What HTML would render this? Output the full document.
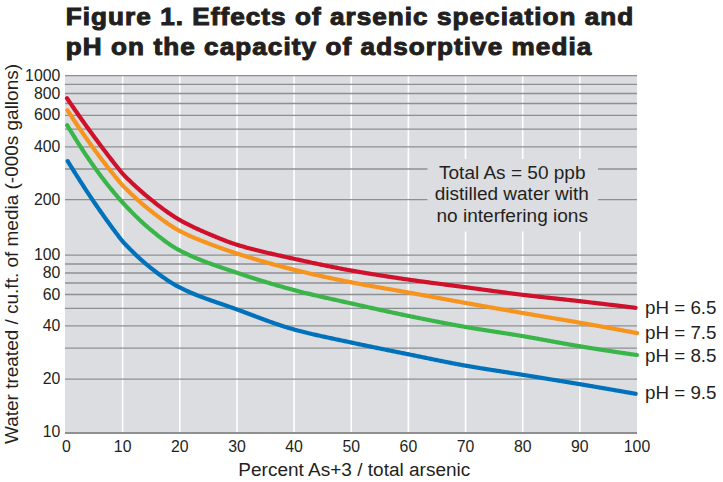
<!DOCTYPE html>
<html><head><meta charset="utf-8"><style>
html,body{margin:0;padding:0;background:#fff;}
body{width:723px;height:482px;overflow:hidden;font-family:"Liberation Sans",sans-serif;}
svg{display:block;}
</style></head><body>
<svg width="723" height="482" viewBox="0 0 723 482">
<rect x="65.0" y="75.5" width="572.0" height="357.5" fill="#dcdde0"/>
<line x1="122.65" y1="75.5" x2="122.65" y2="433.0" stroke="#ffffff" stroke-width="1.6"/>
<line x1="179.80" y1="75.5" x2="179.80" y2="433.0" stroke="#ffffff" stroke-width="1.6"/>
<line x1="236.95" y1="75.5" x2="236.95" y2="433.0" stroke="#ffffff" stroke-width="1.6"/>
<line x1="294.10" y1="75.5" x2="294.10" y2="433.0" stroke="#ffffff" stroke-width="1.6"/>
<line x1="351.25" y1="75.5" x2="351.25" y2="433.0" stroke="#ffffff" stroke-width="1.6"/>
<line x1="408.40" y1="75.5" x2="408.40" y2="433.0" stroke="#ffffff" stroke-width="1.6"/>
<line x1="465.55" y1="75.5" x2="465.55" y2="433.0" stroke="#ffffff" stroke-width="1.6"/>
<line x1="522.70" y1="75.5" x2="522.70" y2="433.0" stroke="#ffffff" stroke-width="1.6"/>
<line x1="579.85" y1="75.5" x2="579.85" y2="433.0" stroke="#ffffff" stroke-width="1.6"/>
<line x1="65.0" y1="75.6" x2="637.0" y2="75.6" stroke="#8e8f91" stroke-width="1.3"/>
<line x1="65.0" y1="84.4" x2="637.0" y2="84.4" stroke="#8e8f91" stroke-width="1.3"/>
<line x1="65.0" y1="93.5" x2="637.0" y2="93.5" stroke="#8e8f91" stroke-width="1.3"/>
<line x1="65.0" y1="103.5" x2="637.0" y2="103.5" stroke="#8e8f91" stroke-width="1.3"/>
<line x1="65.0" y1="115.4" x2="637.0" y2="115.4" stroke="#8e8f91" stroke-width="1.3"/>
<line x1="65.0" y1="129.1" x2="637.0" y2="129.1" stroke="#8e8f91" stroke-width="1.3"/>
<line x1="65.0" y1="146.8" x2="637.0" y2="146.8" stroke="#8e8f91" stroke-width="1.3"/>
<line x1="65.0" y1="169.0" x2="637.0" y2="169.0" stroke="#8e8f91" stroke-width="1.3"/>
<line x1="65.0" y1="199.6" x2="637.0" y2="199.6" stroke="#8e8f91" stroke-width="1.3"/>
<line x1="65.0" y1="255.1" x2="637.0" y2="255.1" stroke="#8e8f91" stroke-width="1.3"/>
<line x1="65.0" y1="264.0" x2="637.0" y2="264.0" stroke="#8e8f91" stroke-width="1.3"/>
<line x1="65.0" y1="273.0" x2="637.0" y2="273.0" stroke="#8e8f91" stroke-width="1.3"/>
<line x1="65.0" y1="283.0" x2="637.0" y2="283.0" stroke="#8e8f91" stroke-width="1.3"/>
<line x1="65.0" y1="294.5" x2="637.0" y2="294.5" stroke="#8e8f91" stroke-width="1.3"/>
<line x1="65.0" y1="308.4" x2="637.0" y2="308.4" stroke="#8e8f91" stroke-width="1.3"/>
<line x1="65.0" y1="325.8" x2="637.0" y2="325.8" stroke="#8e8f91" stroke-width="1.3"/>
<line x1="65.0" y1="348.2" x2="637.0" y2="348.2" stroke="#8e8f91" stroke-width="1.3"/>
<line x1="65.0" y1="379.2" x2="637.0" y2="379.2" stroke="#8e8f91" stroke-width="1.3"/>
<line x1="65.0" y1="433.0" x2="637.0" y2="433.0" stroke="#8e8f91" stroke-width="1.8"/>
<rect x="427.5" y="159" width="170.5" height="72.5" fill="#dcdde0"/>
<path d="M67.70 161.10 L68.70 162.74 L69.70 164.37 L70.70 165.99 L71.70 167.61 L72.70 169.21 L73.70 170.81 L74.70 172.41 L75.70 174.00 L76.70 175.59 L77.70 177.16 L78.70 178.74 L79.70 180.30 L80.70 181.86 L81.70 183.42 L82.70 184.96 L83.70 186.50 L84.70 188.04 L85.70 189.57 L86.70 191.09 L87.70 192.60 L88.70 194.11 L89.70 195.61 L90.70 197.11 L91.70 198.60 L92.70 200.08 L93.70 201.56 L94.70 203.03 L95.70 204.49 L96.70 205.95 L97.70 207.40 L98.70 208.85 L99.70 210.29 L100.70 211.72 L101.70 213.15 L102.70 214.56 L103.70 215.98 L104.70 217.38 L105.70 218.79 L106.70 220.18 L107.70 221.57 L108.70 222.95 L109.70 224.32 L110.70 225.69 L111.70 227.05 L112.70 228.41 L113.70 229.76 L114.70 231.10 L115.70 232.44 L116.70 233.77 L117.70 235.09 L118.70 236.41 L119.70 237.71 L120.70 239.00 L121.70 240.25 L122.70 241.45 L123.70 242.59 L124.70 243.69 L125.70 244.75 L126.70 245.79 L127.70 246.82 L128.70 247.84 L129.70 248.85 L130.70 249.86 L131.70 250.85 L132.70 251.84 L133.70 252.81 L134.70 253.78 L135.70 254.74 L136.70 255.69 L137.70 256.62 L138.70 257.55 L139.70 258.47 L140.70 259.38 L141.70 260.27 L142.70 261.16 L143.70 262.03 L144.70 262.90 L145.70 263.75 L146.70 264.59 L147.70 265.42 L148.70 266.24 L149.70 267.05 L150.70 267.85 L151.70 268.64 L152.70 269.42 L153.70 270.20 L154.70 270.97 L155.70 271.74 L156.70 272.50 L157.70 273.26 L158.70 274.00 L159.70 274.75 L160.70 275.48 L161.70 276.21 L162.70 276.93 L163.70 277.64 L164.70 278.34 L165.70 279.03 L166.70 279.71 L167.70 280.39 L168.70 281.05 L169.70 281.70 L170.70 282.34 L171.70 282.96 L172.70 283.57 L173.70 284.17 L174.70 284.76 L175.70 285.33 L176.70 285.89 L177.70 286.43 L178.70 286.96 L179.70 287.48 L180.70 287.99 L181.70 288.48 L182.70 288.97 L183.70 289.45 L184.70 289.92 L185.70 290.38 L186.70 290.84 L187.70 291.29 L188.70 291.74 L189.70 292.18 L190.70 292.61 L191.70 293.04 L192.70 293.46 L193.70 293.87 L194.70 294.28 L195.70 294.69 L196.70 295.09 L197.70 295.49 L198.70 295.88 L199.70 296.27 L200.70 296.65 L201.70 297.03 L202.70 297.41 L203.70 297.78 L204.70 298.15 L205.70 298.51 L206.70 298.88 L207.70 299.24 L208.70 299.60 L209.70 299.95 L210.70 300.30 L211.70 300.66 L212.70 301.01 L213.70 301.35 L214.70 301.70 L215.70 302.05 L216.70 302.39 L217.70 302.73 L218.70 303.08 L219.70 303.42 L220.70 303.76 L221.70 304.10 L222.70 304.45 L223.70 304.79 L224.70 305.13 L225.70 305.48 L226.70 305.82 L227.70 306.17 L228.70 306.51 L229.70 306.86 L230.70 307.21 L231.70 307.56 L232.70 307.92 L233.70 308.27 L234.70 308.63 L235.70 308.99 L236.70 309.36 L237.70 309.72 L238.70 310.09 L239.70 310.46 L240.70 310.83 L241.70 311.20 L242.70 311.57 L243.70 311.95 L244.70 312.32 L245.70 312.70 L246.70 313.07 L247.70 313.45 L248.70 313.82 L249.70 314.20 L250.70 314.58 L251.70 314.95 L252.70 315.33 L253.70 315.71 L254.70 316.08 L255.70 316.46 L256.70 316.84 L257.70 317.21 L258.70 317.58 L259.70 317.96 L260.70 318.33 L261.70 318.70 L262.70 319.07 L263.70 319.44 L264.70 319.81 L265.70 320.17 L266.70 320.54 L267.70 320.90 L268.70 321.26 L269.70 321.62 L270.70 321.98 L271.70 322.33 L272.70 322.69 L273.70 323.04 L274.70 323.38 L275.70 323.73 L276.70 324.07 L277.70 324.41 L278.70 324.75 L279.70 325.08 L280.70 325.41 L281.70 325.74 L282.70 326.07 L283.70 326.39 L284.70 326.70 L285.70 327.02 L286.70 327.33 L287.70 327.63 L288.70 327.94 L289.70 328.23 L290.70 328.53 L291.70 328.82 L292.70 329.10 L293.70 329.38 L294.70 329.66 L295.70 329.93 L296.70 330.20 L297.70 330.47 L298.70 330.74 L299.70 331.00 L300.70 331.26 L301.70 331.52 L302.70 331.77 L303.70 332.02 L304.70 332.27 L305.70 332.52 L306.70 332.77 L307.70 333.01 L308.70 333.25 L309.70 333.49 L310.70 333.73 L311.70 333.96 L312.70 334.20 L313.70 334.43 L314.70 334.66 L315.70 334.89 L316.70 335.11 L317.70 335.34 L318.70 335.56 L319.70 335.79 L320.70 336.01 L321.70 336.23 L322.70 336.45 L323.70 336.67 L324.70 336.88 L325.70 337.10 L326.70 337.32 L327.70 337.53 L328.70 337.74 L329.70 337.96 L330.70 338.17 L331.70 338.38 L332.70 338.60 L333.70 338.81 L334.70 339.02 L335.70 339.23 L336.70 339.44 L337.70 339.65 L338.70 339.86 L339.70 340.07 L340.70 340.28 L341.70 340.50 L342.70 340.71 L343.70 340.92 L344.70 341.13 L345.70 341.34 L346.70 341.56 L347.70 341.77 L348.70 341.98 L349.70 342.20 L350.70 342.41 L351.70 342.63 L352.70 342.84 L353.70 343.06 L354.70 343.27 L355.70 343.49 L356.70 343.70 L357.70 343.92 L358.70 344.13 L359.70 344.34 L360.70 344.55 L361.70 344.76 L362.70 344.97 L363.70 345.18 L364.70 345.39 L365.70 345.60 L366.70 345.81 L367.70 346.02 L368.70 346.23 L369.70 346.43 L370.70 346.64 L371.70 346.85 L372.70 347.05 L373.70 347.26 L374.70 347.47 L375.70 347.67 L376.70 347.88 L377.70 348.08 L378.70 348.29 L379.70 348.49 L380.70 348.70 L381.70 348.90 L382.70 349.10 L383.70 349.31 L384.70 349.51 L385.70 349.71 L386.70 349.92 L387.70 350.12 L388.70 350.32 L389.70 350.52 L390.70 350.73 L391.70 350.93 L392.70 351.13 L393.70 351.33 L394.70 351.53 L395.70 351.74 L396.70 351.94 L397.70 352.14 L398.70 352.34 L399.70 352.54 L400.70 352.75 L401.70 352.95 L402.70 353.15 L403.70 353.35 L404.70 353.55 L405.70 353.75 L406.70 353.96 L407.70 354.16 L408.70 354.36 L409.70 354.56 L410.70 354.77 L411.70 354.97 L412.70 355.17 L413.70 355.38 L414.70 355.58 L415.70 355.79 L416.70 355.99 L417.70 356.20 L418.70 356.40 L419.70 356.61 L420.70 356.81 L421.70 357.02 L422.70 357.23 L423.70 357.43 L424.70 357.64 L425.70 357.84 L426.70 358.05 L427.70 358.25 L428.70 358.46 L429.70 358.66 L430.70 358.87 L431.70 359.07 L432.70 359.28 L433.70 359.48 L434.70 359.69 L435.70 359.89 L436.70 360.09 L437.70 360.30 L438.70 360.50 L439.70 360.70 L440.70 360.90 L441.70 361.10 L442.70 361.30 L443.70 361.50 L444.70 361.70 L445.70 361.90 L446.70 362.10 L447.70 362.29 L448.70 362.49 L449.70 362.68 L450.70 362.88 L451.70 363.07 L452.70 363.26 L453.70 363.46 L454.70 363.65 L455.70 363.84 L456.70 364.02 L457.70 364.21 L458.70 364.40 L459.70 364.58 L460.70 364.77 L461.70 364.95 L462.70 365.13 L463.70 365.31 L464.70 365.49 L465.70 365.67 L466.70 365.85 L467.70 366.02 L468.70 366.19 L469.70 366.37 L470.70 366.54 L471.70 366.71 L472.70 366.88 L473.70 367.05 L474.70 367.22 L475.70 367.38 L476.70 367.55 L477.70 367.72 L478.70 367.88 L479.70 368.04 L480.70 368.21 L481.70 368.37 L482.70 368.53 L483.70 368.69 L484.70 368.85 L485.70 369.01 L486.70 369.17 L487.70 369.33 L488.70 369.49 L489.70 369.64 L490.70 369.80 L491.70 369.96 L492.70 370.11 L493.70 370.27 L494.70 370.43 L495.70 370.58 L496.70 370.74 L497.70 370.89 L498.70 371.05 L499.70 371.20 L500.70 371.36 L501.70 371.51 L502.70 371.67 L503.70 371.82 L504.70 371.98 L505.70 372.13 L506.70 372.29 L507.70 372.44 L508.70 372.60 L509.70 372.75 L510.70 372.91 L511.70 373.07 L512.70 373.22 L513.70 373.38 L514.70 373.54 L515.70 373.70 L516.70 373.85 L517.70 374.01 L518.70 374.17 L519.70 374.33 L520.70 374.49 L521.70 374.66 L522.70 374.82 L523.70 374.98 L524.70 375.14 L525.70 375.30 L526.70 375.47 L527.70 375.63 L528.70 375.79 L529.70 375.95 L530.70 376.11 L531.70 376.28 L532.70 376.44 L533.70 376.60 L534.70 376.76 L535.70 376.93 L536.70 377.09 L537.70 377.25 L538.70 377.41 L539.70 377.58 L540.70 377.74 L541.70 377.90 L542.70 378.06 L543.70 378.23 L544.70 378.39 L545.70 378.55 L546.70 378.72 L547.70 378.88 L548.70 379.04 L549.70 379.21 L550.70 379.37 L551.70 379.53 L552.70 379.70 L553.70 379.86 L554.70 380.02 L555.70 380.19 L556.70 380.35 L557.70 380.52 L558.70 380.68 L559.70 380.84 L560.70 381.01 L561.70 381.17 L562.70 381.34 L563.70 381.50 L564.70 381.67 L565.70 381.83 L566.70 382.00 L567.70 382.16 L568.70 382.33 L569.70 382.50 L570.70 382.66 L571.70 382.83 L572.70 383.00 L573.70 383.16 L574.70 383.33 L575.70 383.50 L576.70 383.66 L577.70 383.83 L578.70 384.00 L579.70 384.17 L580.70 384.33 L581.70 384.50 L582.70 384.67 L583.70 384.84 L584.70 385.01 L585.70 385.18 L586.70 385.35 L587.70 385.52 L588.70 385.69 L589.70 385.86 L590.70 386.03 L591.70 386.19 L592.70 386.36 L593.70 386.54 L594.70 386.71 L595.70 386.88 L596.70 387.05 L597.70 387.22 L598.70 387.39 L599.70 387.56 L600.70 387.73 L601.70 387.90 L602.70 388.07 L603.70 388.25 L604.70 388.42 L605.70 388.59 L606.70 388.76 L607.70 388.93 L608.70 389.11 L609.70 389.28 L610.70 389.45 L611.70 389.62 L612.70 389.80 L613.70 389.97 L614.70 390.14 L615.70 390.32 L616.70 390.49 L617.70 390.66 L618.70 390.84 L619.70 391.01 L620.70 391.19 L621.70 391.36 L622.70 391.54 L623.70 391.71 L624.70 391.89 L625.70 392.06 L626.70 392.24 L627.70 392.41 L628.70 392.59 L629.70 392.76 L630.70 392.94 L631.70 393.11 L632.70 393.29 L633.70 393.47 L634.70 393.64 L635.60 393.80" fill="none" stroke="#0072bc" stroke-width="4.2" stroke-linecap="round" stroke-linejoin="round"/>
<path d="M67.20 125.20 L68.20 126.88 L69.20 128.55 L70.20 130.21 L71.20 131.85 L72.20 133.48 L73.20 135.10 L74.20 136.72 L75.20 138.32 L76.20 139.92 L77.20 141.50 L78.20 143.08 L79.20 144.64 L80.20 146.20 L81.20 147.74 L82.20 149.27 L83.20 150.79 L84.20 152.31 L85.20 153.81 L86.20 155.30 L87.20 156.78 L88.20 158.25 L89.20 159.71 L90.20 161.16 L91.20 162.60 L92.20 164.03 L93.20 165.45 L94.20 166.85 L95.20 168.25 L96.20 169.64 L97.20 171.01 L98.20 172.38 L99.20 173.74 L100.20 175.08 L101.20 176.42 L102.20 177.74 L103.20 179.06 L104.20 180.36 L105.20 181.65 L106.20 182.93 L107.20 184.21 L108.20 185.47 L109.20 186.72 L110.20 187.96 L111.20 189.19 L112.20 190.41 L113.20 191.62 L114.20 192.82 L115.20 194.01 L116.20 195.19 L117.20 196.36 L118.20 197.51 L119.20 198.66 L120.20 199.80 L121.20 200.92 L122.20 202.03 L123.20 203.14 L124.20 204.23 L125.20 205.31 L126.20 206.38 L127.20 207.44 L128.20 208.49 L129.20 209.54 L130.20 210.58 L131.20 211.61 L132.20 212.63 L133.20 213.64 L134.20 214.64 L135.20 215.63 L136.20 216.62 L137.20 217.59 L138.20 218.55 L139.20 219.51 L140.20 220.45 L141.20 221.39 L142.20 222.31 L143.20 223.23 L144.20 224.13 L145.20 225.02 L146.20 225.90 L147.20 226.77 L148.20 227.63 L149.20 228.48 L150.20 229.32 L151.20 230.15 L152.20 230.98 L153.20 231.80 L154.20 232.61 L155.20 233.43 L156.20 234.23 L157.20 235.04 L158.20 235.83 L159.20 236.62 L160.20 237.41 L161.20 238.18 L162.20 238.95 L163.20 239.71 L164.20 240.46 L165.20 241.21 L166.20 241.94 L167.20 242.66 L168.20 243.37 L169.20 244.06 L170.20 244.74 L171.20 245.41 L172.20 246.07 L173.20 246.71 L174.20 247.33 L175.20 247.94 L176.20 248.54 L177.20 249.11 L178.20 249.67 L179.20 250.21 L180.20 250.74 L181.20 251.26 L182.20 251.77 L183.20 252.26 L184.20 252.76 L185.20 253.24 L186.20 253.72 L187.20 254.19 L188.20 254.66 L189.20 255.12 L190.20 255.57 L191.20 256.02 L192.20 256.46 L193.20 256.89 L194.20 257.32 L195.20 257.75 L196.20 258.17 L197.20 258.58 L198.20 258.99 L199.20 259.40 L200.20 259.80 L201.20 260.20 L202.20 260.59 L203.20 260.98 L204.20 261.36 L205.20 261.74 L206.20 262.12 L207.20 262.49 L208.20 262.86 L209.20 263.23 L210.20 263.59 L211.20 263.95 L212.20 264.31 L213.20 264.67 L214.20 265.02 L215.20 265.37 L216.20 265.72 L217.20 266.07 L218.20 266.41 L219.20 266.75 L220.20 267.10 L221.20 267.44 L222.20 267.78 L223.20 268.12 L224.20 268.45 L225.20 268.79 L226.20 269.13 L227.20 269.46 L228.20 269.80 L229.20 270.14 L230.20 270.47 L231.20 270.81 L232.20 271.14 L233.20 271.48 L234.20 271.82 L235.20 272.16 L236.20 272.49 L237.20 272.83 L238.20 273.17 L239.20 273.51 L240.20 273.85 L241.20 274.18 L242.20 274.52 L243.20 274.85 L244.20 275.19 L245.20 275.52 L246.20 275.85 L247.20 276.18 L248.20 276.50 L249.20 276.83 L250.20 277.16 L251.20 277.48 L252.20 277.80 L253.20 278.12 L254.20 278.44 L255.20 278.76 L256.20 279.08 L257.20 279.39 L258.20 279.71 L259.20 280.02 L260.20 280.33 L261.20 280.64 L262.20 280.95 L263.20 281.26 L264.20 281.57 L265.20 281.87 L266.20 282.18 L267.20 282.48 L268.20 282.78 L269.20 283.08 L270.20 283.38 L271.20 283.68 L272.20 283.97 L273.20 284.27 L274.20 284.56 L275.20 284.85 L276.20 285.14 L277.20 285.43 L278.20 285.72 L279.20 286.01 L280.20 286.29 L281.20 286.57 L282.20 286.85 L283.20 287.14 L284.20 287.41 L285.20 287.69 L286.20 287.97 L287.20 288.24 L288.20 288.52 L289.20 288.79 L290.20 289.06 L291.20 289.33 L292.20 289.59 L293.20 289.86 L294.20 290.12 L295.20 290.39 L296.20 290.65 L297.20 290.91 L298.20 291.16 L299.20 291.42 L300.20 291.67 L301.20 291.93 L302.20 292.18 L303.20 292.43 L304.20 292.67 L305.20 292.92 L306.20 293.17 L307.20 293.41 L308.20 293.65 L309.20 293.89 L310.20 294.13 L311.20 294.37 L312.20 294.61 L313.20 294.85 L314.20 295.08 L315.20 295.32 L316.20 295.55 L317.20 295.78 L318.20 296.01 L319.20 296.24 L320.20 296.47 L321.20 296.70 L322.20 296.93 L323.20 297.16 L324.20 297.39 L325.20 297.61 L326.20 297.84 L327.20 298.06 L328.20 298.29 L329.20 298.51 L330.20 298.74 L331.20 298.96 L332.20 299.18 L333.20 299.41 L334.20 299.63 L335.20 299.85 L336.20 300.07 L337.20 300.30 L338.20 300.52 L339.20 300.74 L340.20 300.96 L341.20 301.19 L342.20 301.41 L343.20 301.63 L344.20 301.85 L345.20 302.08 L346.20 302.30 L347.20 302.52 L348.20 302.75 L349.20 302.97 L350.20 303.20 L351.20 303.42 L352.20 303.65 L353.20 303.87 L354.20 304.10 L355.20 304.32 L356.20 304.55 L357.20 304.77 L358.20 305.00 L359.20 305.22 L360.20 305.45 L361.20 305.67 L362.20 305.90 L363.20 306.12 L364.20 306.35 L365.20 306.57 L366.20 306.79 L367.20 307.02 L368.20 307.24 L369.20 307.46 L370.20 307.68 L371.20 307.91 L372.20 308.13 L373.20 308.35 L374.20 308.57 L375.20 308.79 L376.20 309.01 L377.20 309.24 L378.20 309.46 L379.20 309.68 L380.20 309.90 L381.20 310.11 L382.20 310.33 L383.20 310.55 L384.20 310.77 L385.20 310.99 L386.20 311.20 L387.20 311.42 L388.20 311.64 L389.20 311.85 L390.20 312.07 L391.20 312.28 L392.20 312.50 L393.20 312.71 L394.20 312.93 L395.20 313.14 L396.20 313.35 L397.20 313.56 L398.20 313.78 L399.20 313.99 L400.20 314.20 L401.20 314.41 L402.20 314.62 L403.20 314.82 L404.20 315.03 L405.20 315.24 L406.20 315.45 L407.20 315.65 L408.20 315.86 L409.20 316.06 L410.20 316.27 L411.20 316.47 L412.20 316.68 L413.20 316.88 L414.20 317.08 L415.20 317.29 L416.20 317.49 L417.20 317.69 L418.20 317.90 L419.20 318.10 L420.20 318.30 L421.20 318.50 L422.20 318.70 L423.20 318.91 L424.20 319.11 L425.20 319.31 L426.20 319.51 L427.20 319.71 L428.20 319.91 L429.20 320.10 L430.20 320.30 L431.20 320.50 L432.20 320.70 L433.20 320.89 L434.20 321.09 L435.20 321.29 L436.20 321.48 L437.20 321.68 L438.20 321.87 L439.20 322.07 L440.20 322.26 L441.20 322.45 L442.20 322.64 L443.20 322.84 L444.20 323.03 L445.20 323.22 L446.20 323.41 L447.20 323.60 L448.20 323.78 L449.20 323.97 L450.20 324.16 L451.20 324.35 L452.20 324.53 L453.20 324.72 L454.20 324.90 L455.20 325.09 L456.20 325.27 L457.20 325.45 L458.20 325.63 L459.20 325.81 L460.20 325.99 L461.20 326.17 L462.20 326.35 L463.20 326.53 L464.20 326.71 L465.20 326.88 L466.20 327.06 L467.20 327.23 L468.20 327.40 L469.20 327.57 L470.20 327.74 L471.20 327.91 L472.20 328.08 L473.20 328.25 L474.20 328.41 L475.20 328.58 L476.20 328.74 L477.20 328.90 L478.20 329.07 L479.20 329.23 L480.20 329.39 L481.20 329.55 L482.20 329.71 L483.20 329.87 L484.20 330.03 L485.20 330.18 L486.20 330.34 L487.20 330.50 L488.20 330.65 L489.20 330.81 L490.20 330.97 L491.20 331.12 L492.20 331.28 L493.20 331.43 L494.20 331.59 L495.20 331.74 L496.20 331.90 L497.20 332.05 L498.20 332.20 L499.20 332.36 L500.20 332.51 L501.20 332.67 L502.20 332.82 L503.20 332.98 L504.20 333.14 L505.20 333.29 L506.20 333.45 L507.20 333.61 L508.20 333.76 L509.20 333.92 L510.20 334.08 L511.20 334.24 L512.20 334.40 L513.20 334.56 L514.20 334.72 L515.20 334.88 L516.20 335.04 L517.20 335.20 L518.20 335.37 L519.20 335.53 L520.20 335.70 L521.20 335.87 L522.20 336.03 L523.20 336.20 L524.20 336.37 L525.20 336.54 L526.20 336.72 L527.20 336.89 L528.20 337.06 L529.20 337.24 L530.20 337.41 L531.20 337.59 L532.20 337.77 L533.20 337.95 L534.20 338.12 L535.20 338.30 L536.20 338.48 L537.20 338.66 L538.20 338.84 L539.20 339.03 L540.20 339.21 L541.20 339.39 L542.20 339.57 L543.20 339.75 L544.20 339.94 L545.20 340.12 L546.20 340.30 L547.20 340.49 L548.20 340.67 L549.20 340.85 L550.20 341.04 L551.20 341.22 L552.20 341.41 L553.20 341.59 L554.20 341.77 L555.20 341.96 L556.20 342.14 L557.20 342.32 L558.20 342.50 L559.20 342.68 L560.20 342.87 L561.20 343.05 L562.20 343.23 L563.20 343.41 L564.20 343.59 L565.20 343.77 L566.20 343.94 L567.20 344.12 L568.20 344.30 L569.20 344.47 L570.20 344.65 L571.20 344.82 L572.20 345.00 L573.20 345.17 L574.20 345.34 L575.20 345.51 L576.20 345.68 L577.20 345.85 L578.20 346.02 L579.20 346.18 L580.20 346.35 L581.20 346.51 L582.20 346.68 L583.20 346.84 L584.20 347.00 L585.20 347.17 L586.20 347.33 L587.20 347.49 L588.20 347.65 L589.20 347.81 L590.20 347.97 L591.20 348.13 L592.20 348.29 L593.20 348.45 L594.20 348.61 L595.20 348.77 L596.20 348.93 L597.20 349.09 L598.20 349.24 L599.20 349.40 L600.20 349.56 L601.20 349.72 L602.20 349.87 L603.20 350.03 L604.20 350.18 L605.20 350.34 L606.20 350.49 L607.20 350.64 L608.20 350.80 L609.20 350.95 L610.20 351.10 L611.20 351.26 L612.20 351.41 L613.20 351.56 L614.20 351.71 L615.20 351.86 L616.20 352.01 L617.20 352.16 L618.20 352.31 L619.20 352.46 L620.20 352.61 L621.20 352.75 L622.20 352.90 L623.20 353.05 L624.20 353.19 L625.20 353.34 L626.20 353.48 L627.20 353.63 L628.20 353.77 L629.20 353.92 L630.20 354.06 L631.20 354.21 L632.20 354.35 L633.20 354.49 L634.20 354.63 L635.20 354.77 L636.20 354.92 L636.80 355.00" fill="none" stroke="#39b54a" stroke-width="4.2" stroke-linecap="round" stroke-linejoin="round"/>
<path d="M67.50 110.30 L68.50 111.85 L69.50 113.39 L70.50 114.93 L71.50 116.46 L72.50 117.97 L73.50 119.49 L74.50 121.00 L75.50 122.50 L76.50 123.99 L77.50 125.48 L78.50 126.96 L79.50 128.44 L80.50 129.91 L81.50 131.37 L82.50 132.82 L83.50 134.27 L84.50 135.71 L85.50 137.14 L86.50 138.57 L87.50 139.99 L88.50 141.40 L89.50 142.81 L90.50 144.21 L91.50 145.60 L92.50 146.99 L93.50 148.37 L94.50 149.74 L95.50 151.10 L96.50 152.46 L97.50 153.81 L98.50 155.16 L99.50 156.49 L100.50 157.83 L101.50 159.15 L102.50 160.47 L103.50 161.78 L104.50 163.08 L105.50 164.38 L106.50 165.67 L107.50 166.95 L108.50 168.23 L109.50 169.49 L110.50 170.76 L111.50 172.01 L112.50 173.26 L113.50 174.50 L114.50 175.74 L115.50 176.97 L116.50 178.19 L117.50 179.40 L118.50 180.61 L119.50 181.81 L120.50 182.99 L121.50 184.14 L122.50 185.26 L123.50 186.33 L124.50 187.36 L125.50 188.37 L126.50 189.36 L127.50 190.33 L128.50 191.30 L129.50 192.27 L130.50 193.22 L131.50 194.17 L132.50 195.11 L133.50 196.04 L134.50 196.97 L135.50 197.89 L136.50 198.80 L137.50 199.70 L138.50 200.60 L139.50 201.49 L140.50 202.36 L141.50 203.24 L142.50 204.10 L143.50 204.95 L144.50 205.80 L145.50 206.64 L146.50 207.47 L147.50 208.29 L148.50 209.10 L149.50 209.90 L150.50 210.70 L151.50 211.48 L152.50 212.27 L153.50 213.05 L154.50 213.83 L155.50 214.60 L156.50 215.37 L157.50 216.13 L158.50 216.89 L159.50 217.65 L160.50 218.40 L161.50 219.14 L162.50 219.88 L163.50 220.61 L164.50 221.33 L165.50 222.04 L166.50 222.74 L167.50 223.44 L168.50 224.12 L169.50 224.80 L170.50 225.46 L171.50 226.11 L172.50 226.75 L173.50 227.38 L174.50 228.00 L175.50 228.60 L176.50 229.19 L177.50 229.76 L178.50 230.32 L179.50 230.87 L180.50 231.41 L181.50 231.93 L182.50 232.44 L183.50 232.94 L184.50 233.43 L185.50 233.91 L186.50 234.39 L187.50 234.85 L188.50 235.31 L189.50 235.76 L190.50 236.21 L191.50 236.64 L192.50 237.08 L193.50 237.50 L194.50 237.92 L195.50 238.34 L196.50 238.75 L197.50 239.16 L198.50 239.56 L199.50 239.96 L200.50 240.36 L201.50 240.76 L202.50 241.15 L203.50 241.54 L204.50 241.93 L205.50 242.32 L206.50 242.71 L207.50 243.10 L208.50 243.49 L209.50 243.88 L210.50 244.26 L211.50 244.65 L212.50 245.03 L213.50 245.40 L214.50 245.78 L215.50 246.15 L216.50 246.52 L217.50 246.89 L218.50 247.25 L219.50 247.62 L220.50 247.98 L221.50 248.33 L222.50 248.69 L223.50 249.04 L224.50 249.39 L225.50 249.74 L226.50 250.08 L227.50 250.43 L228.50 250.77 L229.50 251.10 L230.50 251.44 L231.50 251.77 L232.50 252.10 L233.50 252.43 L234.50 252.76 L235.50 253.08 L236.50 253.40 L237.50 253.72 L238.50 254.04 L239.50 254.36 L240.50 254.68 L241.50 254.99 L242.50 255.30 L243.50 255.62 L244.50 255.93 L245.50 256.24 L246.50 256.55 L247.50 256.85 L248.50 257.16 L249.50 257.46 L250.50 257.77 L251.50 258.07 L252.50 258.37 L253.50 258.67 L254.50 258.97 L255.50 259.27 L256.50 259.57 L257.50 259.86 L258.50 260.15 L259.50 260.45 L260.50 260.74 L261.50 261.03 L262.50 261.32 L263.50 261.61 L264.50 261.89 L265.50 262.18 L266.50 262.46 L267.50 262.75 L268.50 263.03 L269.50 263.31 L270.50 263.59 L271.50 263.86 L272.50 264.14 L273.50 264.42 L274.50 264.69 L275.50 264.96 L276.50 265.23 L277.50 265.50 L278.50 265.77 L279.50 266.04 L280.50 266.31 L281.50 266.57 L282.50 266.84 L283.50 267.10 L284.50 267.36 L285.50 267.62 L286.50 267.88 L287.50 268.13 L288.50 268.39 L289.50 268.64 L290.50 268.90 L291.50 269.15 L292.50 269.40 L293.50 269.65 L294.50 269.90 L295.50 270.14 L296.50 270.39 L297.50 270.63 L298.50 270.88 L299.50 271.12 L300.50 271.36 L301.50 271.60 L302.50 271.84 L303.50 272.07 L304.50 272.31 L305.50 272.55 L306.50 272.78 L307.50 273.01 L308.50 273.25 L309.50 273.48 L310.50 273.71 L311.50 273.94 L312.50 274.16 L313.50 274.39 L314.50 274.62 L315.50 274.84 L316.50 275.07 L317.50 275.29 L318.50 275.51 L319.50 275.73 L320.50 275.95 L321.50 276.17 L322.50 276.39 L323.50 276.61 L324.50 276.82 L325.50 277.04 L326.50 277.26 L327.50 277.47 L328.50 277.68 L329.50 277.90 L330.50 278.11 L331.50 278.32 L332.50 278.53 L333.50 278.74 L334.50 278.95 L335.50 279.15 L336.50 279.36 L337.50 279.57 L338.50 279.77 L339.50 279.98 L340.50 280.18 L341.50 280.38 L342.50 280.59 L343.50 280.79 L344.50 280.99 L345.50 281.19 L346.50 281.39 L347.50 281.59 L348.50 281.79 L349.50 281.98 L350.50 282.18 L351.50 282.38 L352.50 282.57 L353.50 282.77 L354.50 282.96 L355.50 283.15 L356.50 283.34 L357.50 283.53 L358.50 283.72 L359.50 283.90 L360.50 284.09 L361.50 284.28 L362.50 284.46 L363.50 284.64 L364.50 284.82 L365.50 285.01 L366.50 285.19 L367.50 285.36 L368.50 285.54 L369.50 285.72 L370.50 285.90 L371.50 286.08 L372.50 286.25 L373.50 286.43 L374.50 286.60 L375.50 286.78 L376.50 286.95 L377.50 287.13 L378.50 287.30 L379.50 287.47 L380.50 287.64 L381.50 287.82 L382.50 287.99 L383.50 288.16 L384.50 288.33 L385.50 288.51 L386.50 288.68 L387.50 288.85 L388.50 289.02 L389.50 289.19 L390.50 289.37 L391.50 289.54 L392.50 289.71 L393.50 289.88 L394.50 290.05 L395.50 290.23 L396.50 290.40 L397.50 290.57 L398.50 290.75 L399.50 290.92 L400.50 291.10 L401.50 291.27 L402.50 291.45 L403.50 291.63 L404.50 291.80 L405.50 291.98 L406.50 292.16 L407.50 292.34 L408.50 292.52 L409.50 292.70 L410.50 292.88 L411.50 293.06 L412.50 293.24 L413.50 293.42 L414.50 293.61 L415.50 293.79 L416.50 293.97 L417.50 294.15 L418.50 294.33 L419.50 294.52 L420.50 294.70 L421.50 294.88 L422.50 295.07 L423.50 295.25 L424.50 295.43 L425.50 295.62 L426.50 295.80 L427.50 295.98 L428.50 296.17 L429.50 296.35 L430.50 296.54 L431.50 296.72 L432.50 296.91 L433.50 297.09 L434.50 297.27 L435.50 297.46 L436.50 297.64 L437.50 297.83 L438.50 298.01 L439.50 298.19 L440.50 298.38 L441.50 298.56 L442.50 298.75 L443.50 298.93 L444.50 299.11 L445.50 299.30 L446.50 299.48 L447.50 299.66 L448.50 299.85 L449.50 300.03 L450.50 300.21 L451.50 300.40 L452.50 300.58 L453.50 300.76 L454.50 300.95 L455.50 301.13 L456.50 301.31 L457.50 301.49 L458.50 301.67 L459.50 301.85 L460.50 302.03 L461.50 302.22 L462.50 302.40 L463.50 302.58 L464.50 302.76 L465.50 302.94 L466.50 303.12 L467.50 303.29 L468.50 303.47 L469.50 303.65 L470.50 303.83 L471.50 304.01 L472.50 304.19 L473.50 304.37 L474.50 304.55 L475.50 304.73 L476.50 304.90 L477.50 305.08 L478.50 305.26 L479.50 305.44 L480.50 305.62 L481.50 305.79 L482.50 305.97 L483.50 306.15 L484.50 306.33 L485.50 306.50 L486.50 306.68 L487.50 306.86 L488.50 307.04 L489.50 307.21 L490.50 307.39 L491.50 307.57 L492.50 307.74 L493.50 307.92 L494.50 308.10 L495.50 308.27 L496.50 308.45 L497.50 308.62 L498.50 308.80 L499.50 308.98 L500.50 309.15 L501.50 309.33 L502.50 309.50 L503.50 309.68 L504.50 309.85 L505.50 310.03 L506.50 310.20 L507.50 310.38 L508.50 310.55 L509.50 310.73 L510.50 310.90 L511.50 311.07 L512.50 311.25 L513.50 311.42 L514.50 311.60 L515.50 311.77 L516.50 311.94 L517.50 312.12 L518.50 312.29 L519.50 312.46 L520.50 312.64 L521.50 312.81 L522.50 312.98 L523.50 313.15 L524.50 313.33 L525.50 313.50 L526.50 313.67 L527.50 313.84 L528.50 314.01 L529.50 314.18 L530.50 314.35 L531.50 314.52 L532.50 314.69 L533.50 314.86 L534.50 315.03 L535.50 315.20 L536.50 315.36 L537.50 315.53 L538.50 315.70 L539.50 315.87 L540.50 316.04 L541.50 316.20 L542.50 316.37 L543.50 316.54 L544.50 316.70 L545.50 316.87 L546.50 317.04 L547.50 317.20 L548.50 317.37 L549.50 317.54 L550.50 317.71 L551.50 317.87 L552.50 318.04 L553.50 318.21 L554.50 318.37 L555.50 318.54 L556.50 318.71 L557.50 318.88 L558.50 319.04 L559.50 319.21 L560.50 319.38 L561.50 319.55 L562.50 319.72 L563.50 319.88 L564.50 320.05 L565.50 320.22 L566.50 320.39 L567.50 320.56 L568.50 320.73 L569.50 320.90 L570.50 321.07 L571.50 321.24 L572.50 321.42 L573.50 321.59 L574.50 321.76 L575.50 321.93 L576.50 322.11 L577.50 322.28 L578.50 322.46 L579.50 322.63 L580.50 322.81 L581.50 322.98 L582.50 323.16 L583.50 323.33 L584.50 323.51 L585.50 323.69 L586.50 323.86 L587.50 324.04 L588.50 324.22 L589.50 324.40 L590.50 324.57 L591.50 324.75 L592.50 324.93 L593.50 325.11 L594.50 325.29 L595.50 325.47 L596.50 325.65 L597.50 325.83 L598.50 326.01 L599.50 326.19 L600.50 326.37 L601.50 326.55 L602.50 326.73 L603.50 326.91 L604.50 327.09 L605.50 327.27 L606.50 327.45 L607.50 327.63 L608.50 327.82 L609.50 328.00 L610.50 328.18 L611.50 328.36 L612.50 328.55 L613.50 328.73 L614.50 328.91 L615.50 329.10 L616.50 329.28 L617.50 329.47 L618.50 329.65 L619.50 329.83 L620.50 330.02 L621.50 330.20 L622.50 330.39 L623.50 330.57 L624.50 330.76 L625.50 330.95 L626.50 331.13 L627.50 331.32 L628.50 331.51 L629.50 331.69 L630.50 331.88 L631.50 332.07 L632.50 332.25 L633.50 332.44 L634.50 332.63 L635.50 332.82 L636.50 333.01 L637.00 333.10" fill="none" stroke="#f7941d" stroke-width="4.2" stroke-linecap="round" stroke-linejoin="round"/>
<path d="M67.00 98.30 L68.00 99.77 L69.00 101.24 L70.00 102.70 L71.00 104.16 L72.00 105.61 L73.00 107.06 L74.00 108.50 L75.00 109.94 L76.00 111.38 L77.00 112.82 L78.00 114.25 L79.00 115.67 L80.00 117.09 L81.00 118.51 L82.00 119.92 L83.00 121.33 L84.00 122.74 L85.00 124.14 L86.00 125.53 L87.00 126.93 L88.00 128.31 L89.00 129.70 L90.00 131.08 L91.00 132.45 L92.00 133.82 L93.00 135.19 L94.00 136.56 L95.00 137.91 L96.00 139.27 L97.00 140.62 L98.00 141.97 L99.00 143.31 L100.00 144.65 L101.00 145.98 L102.00 147.31 L103.00 148.64 L104.00 149.96 L105.00 151.28 L106.00 152.59 L107.00 153.90 L108.00 155.21 L109.00 156.51 L110.00 157.81 L111.00 159.10 L112.00 160.39 L113.00 161.67 L114.00 162.95 L115.00 164.23 L116.00 165.50 L117.00 166.77 L118.00 168.03 L119.00 169.29 L120.00 170.53 L121.00 171.75 L122.00 172.94 L123.00 174.07 L124.00 175.14 L125.00 176.17 L126.00 177.17 L127.00 178.16 L128.00 179.14 L129.00 180.10 L130.00 181.07 L131.00 182.02 L132.00 182.97 L133.00 183.91 L134.00 184.85 L135.00 185.78 L136.00 186.70 L137.00 187.61 L138.00 188.52 L139.00 189.42 L140.00 190.31 L141.00 191.19 L142.00 192.07 L143.00 192.94 L144.00 193.80 L145.00 194.65 L146.00 195.49 L147.00 196.33 L148.00 197.15 L149.00 197.97 L150.00 198.79 L151.00 199.59 L152.00 200.39 L153.00 201.18 L154.00 201.97 L155.00 202.76 L156.00 203.54 L157.00 204.32 L158.00 205.09 L159.00 205.86 L160.00 206.62 L161.00 207.38 L162.00 208.13 L163.00 208.87 L164.00 209.61 L165.00 210.34 L166.00 211.06 L167.00 211.77 L168.00 212.48 L169.00 213.18 L170.00 213.86 L171.00 214.54 L172.00 215.21 L173.00 215.87 L174.00 216.51 L175.00 217.15 L176.00 217.77 L177.00 218.39 L178.00 218.99 L179.00 219.58 L180.00 220.15 L181.00 220.72 L182.00 221.28 L183.00 221.83 L184.00 222.37 L185.00 222.90 L186.00 223.43 L187.00 223.94 L188.00 224.45 L189.00 224.96 L190.00 225.45 L191.00 225.94 L192.00 226.43 L193.00 226.90 L194.00 227.38 L195.00 227.84 L196.00 228.31 L197.00 228.77 L198.00 229.22 L199.00 229.67 L200.00 230.12 L201.00 230.56 L202.00 231.00 L203.00 231.44 L204.00 231.88 L205.00 232.31 L206.00 232.74 L207.00 233.17 L208.00 233.60 L209.00 234.03 L210.00 234.45 L211.00 234.88 L212.00 235.30 L213.00 235.72 L214.00 236.14 L215.00 236.56 L216.00 236.98 L217.00 237.39 L218.00 237.80 L219.00 238.21 L220.00 238.62 L221.00 239.02 L222.00 239.41 L223.00 239.81 L224.00 240.20 L225.00 240.58 L226.00 240.96 L227.00 241.34 L228.00 241.71 L229.00 242.07 L230.00 242.43 L231.00 242.78 L232.00 243.13 L233.00 243.47 L234.00 243.80 L235.00 244.13 L236.00 244.45 L237.00 244.76 L238.00 245.07 L239.00 245.37 L240.00 245.67 L241.00 245.97 L242.00 246.26 L243.00 246.55 L244.00 246.83 L245.00 247.12 L246.00 247.40 L247.00 247.67 L248.00 247.95 L249.00 248.22 L250.00 248.49 L251.00 248.76 L252.00 249.02 L253.00 249.28 L254.00 249.54 L255.00 249.80 L256.00 250.05 L257.00 250.30 L258.00 250.55 L259.00 250.80 L260.00 251.05 L261.00 251.29 L262.00 251.53 L263.00 251.77 L264.00 252.01 L265.00 252.25 L266.00 252.49 L267.00 252.72 L268.00 252.95 L269.00 253.19 L270.00 253.42 L271.00 253.65 L272.00 253.88 L273.00 254.10 L274.00 254.33 L275.00 254.56 L276.00 254.78 L277.00 255.00 L278.00 255.23 L279.00 255.45 L280.00 255.67 L281.00 255.90 L282.00 256.12 L283.00 256.34 L284.00 256.56 L285.00 256.78 L286.00 257.00 L287.00 257.22 L288.00 257.44 L289.00 257.67 L290.00 257.89 L291.00 258.11 L292.00 258.33 L293.00 258.55 L294.00 258.78 L295.00 259.00 L296.00 259.22 L297.00 259.45 L298.00 259.67 L299.00 259.89 L300.00 260.11 L301.00 260.33 L302.00 260.55 L303.00 260.77 L304.00 260.99 L305.00 261.21 L306.00 261.43 L307.00 261.65 L308.00 261.87 L309.00 262.08 L310.00 262.30 L311.00 262.51 L312.00 262.73 L313.00 262.94 L314.00 263.16 L315.00 263.37 L316.00 263.58 L317.00 263.79 L318.00 264.00 L319.00 264.22 L320.00 264.42 L321.00 264.63 L322.00 264.84 L323.00 265.05 L324.00 265.26 L325.00 265.46 L326.00 265.67 L327.00 265.87 L328.00 266.07 L329.00 266.28 L330.00 266.48 L331.00 266.68 L332.00 266.88 L333.00 267.08 L334.00 267.27 L335.00 267.47 L336.00 267.67 L337.00 267.86 L338.00 268.06 L339.00 268.25 L340.00 268.44 L341.00 268.63 L342.00 268.82 L343.00 269.01 L344.00 269.20 L345.00 269.38 L346.00 269.57 L347.00 269.75 L348.00 269.94 L349.00 270.12 L350.00 270.30 L351.00 270.48 L352.00 270.66 L353.00 270.84 L354.00 271.01 L355.00 271.19 L356.00 271.37 L357.00 271.54 L358.00 271.71 L359.00 271.89 L360.00 272.06 L361.00 272.23 L362.00 272.40 L363.00 272.57 L364.00 272.74 L365.00 272.90 L366.00 273.07 L367.00 273.24 L368.00 273.40 L369.00 273.57 L370.00 273.73 L371.00 273.89 L372.00 274.06 L373.00 274.22 L374.00 274.38 L375.00 274.54 L376.00 274.70 L377.00 274.86 L378.00 275.02 L379.00 275.17 L380.00 275.33 L381.00 275.49 L382.00 275.64 L383.00 275.80 L384.00 275.96 L385.00 276.11 L386.00 276.26 L387.00 276.42 L388.00 276.57 L389.00 276.72 L390.00 276.87 L391.00 277.03 L392.00 277.18 L393.00 277.33 L394.00 277.48 L395.00 277.63 L396.00 277.78 L397.00 277.93 L398.00 278.07 L399.00 278.22 L400.00 278.37 L401.00 278.52 L402.00 278.67 L403.00 278.81 L404.00 278.96 L405.00 279.10 L406.00 279.25 L407.00 279.40 L408.00 279.54 L409.00 279.69 L410.00 279.83 L411.00 279.97 L412.00 280.12 L413.00 280.26 L414.00 280.40 L415.00 280.54 L416.00 280.68 L417.00 280.82 L418.00 280.96 L419.00 281.10 L420.00 281.23 L421.00 281.37 L422.00 281.51 L423.00 281.64 L424.00 281.78 L425.00 281.91 L426.00 282.05 L427.00 282.18 L428.00 282.32 L429.00 282.45 L430.00 282.58 L431.00 282.72 L432.00 282.85 L433.00 282.98 L434.00 283.11 L435.00 283.24 L436.00 283.37 L437.00 283.50 L438.00 283.64 L439.00 283.77 L440.00 283.90 L441.00 284.03 L442.00 284.16 L443.00 284.29 L444.00 284.42 L445.00 284.55 L446.00 284.68 L447.00 284.81 L448.00 284.94 L449.00 285.07 L450.00 285.19 L451.00 285.32 L452.00 285.45 L453.00 285.58 L454.00 285.72 L455.00 285.85 L456.00 285.98 L457.00 286.11 L458.00 286.24 L459.00 286.37 L460.00 286.50 L461.00 286.63 L462.00 286.76 L463.00 286.90 L464.00 287.03 L465.00 287.16 L466.00 287.29 L467.00 287.43 L468.00 287.56 L469.00 287.70 L470.00 287.83 L471.00 287.96 L472.00 288.10 L473.00 288.23 L474.00 288.37 L475.00 288.51 L476.00 288.64 L477.00 288.78 L478.00 288.91 L479.00 289.05 L480.00 289.19 L481.00 289.32 L482.00 289.46 L483.00 289.59 L484.00 289.73 L485.00 289.87 L486.00 290.00 L487.00 290.14 L488.00 290.28 L489.00 290.41 L490.00 290.55 L491.00 290.68 L492.00 290.82 L493.00 290.96 L494.00 291.09 L495.00 291.23 L496.00 291.36 L497.00 291.50 L498.00 291.63 L499.00 291.76 L500.00 291.90 L501.00 292.03 L502.00 292.17 L503.00 292.30 L504.00 292.43 L505.00 292.56 L506.00 292.69 L507.00 292.83 L508.00 292.96 L509.00 293.09 L510.00 293.22 L511.00 293.35 L512.00 293.47 L513.00 293.60 L514.00 293.73 L515.00 293.86 L516.00 293.98 L517.00 294.11 L518.00 294.23 L519.00 294.36 L520.00 294.48 L521.00 294.60 L522.00 294.73 L523.00 294.85 L524.00 294.97 L525.00 295.09 L526.00 295.21 L527.00 295.33 L528.00 295.44 L529.00 295.56 L530.00 295.68 L531.00 295.79 L532.00 295.91 L533.00 296.02 L534.00 296.14 L535.00 296.25 L536.00 296.36 L537.00 296.48 L538.00 296.59 L539.00 296.70 L540.00 296.81 L541.00 296.92 L542.00 297.03 L543.00 297.14 L544.00 297.25 L545.00 297.36 L546.00 297.47 L547.00 297.58 L548.00 297.69 L549.00 297.80 L550.00 297.91 L551.00 298.02 L552.00 298.13 L553.00 298.23 L554.00 298.34 L555.00 298.45 L556.00 298.56 L557.00 298.67 L558.00 298.77 L559.00 298.88 L560.00 298.99 L561.00 299.10 L562.00 299.21 L563.00 299.32 L564.00 299.43 L565.00 299.54 L566.00 299.65 L567.00 299.75 L568.00 299.86 L569.00 299.97 L570.00 300.09 L571.00 300.20 L572.00 300.31 L573.00 300.42 L574.00 300.53 L575.00 300.64 L576.00 300.76 L577.00 300.87 L578.00 300.98 L579.00 301.10 L580.00 301.21 L581.00 301.33 L582.00 301.44 L583.00 301.56 L584.00 301.67 L585.00 301.79 L586.00 301.90 L587.00 302.02 L588.00 302.14 L589.00 302.25 L590.00 302.37 L591.00 302.49 L592.00 302.60 L593.00 302.72 L594.00 302.84 L595.00 302.95 L596.00 303.07 L597.00 303.19 L598.00 303.31 L599.00 303.42 L600.00 303.54 L601.00 303.66 L602.00 303.78 L603.00 303.89 L604.00 304.01 L605.00 304.13 L606.00 304.25 L607.00 304.37 L608.00 304.49 L609.00 304.61 L610.00 304.72 L611.00 304.84 L612.00 304.96 L613.00 305.08 L614.00 305.20 L615.00 305.32 L616.00 305.44 L617.00 305.56 L618.00 305.68 L619.00 305.80 L620.00 305.92 L621.00 306.04 L622.00 306.16 L623.00 306.28 L624.00 306.40 L625.00 306.52 L626.00 306.65 L627.00 306.77 L628.00 306.89 L629.00 307.01 L630.00 307.13 L631.00 307.25 L632.00 307.37 L633.00 307.49 L634.00 307.62 L635.00 307.74 L635.50 307.80" fill="none" stroke="#d0112b" stroke-width="4.2" stroke-linecap="round" stroke-linejoin="round"/>
<text transform="translate(65.8 24.8) scale(1.12 1)" x="0" y="0" font-family="Liberation Sans, sans-serif" font-weight="bold" font-size="23.3" fill="#231f20" stroke="#231f20" stroke-width="1.0" textLength="506.70" lengthAdjust="spacing">Figure 1. Effects of arsenic speciation and</text>
<text transform="translate(65.8 54.7) scale(1.12 1)" x="0" y="0" font-family="Liberation Sans, sans-serif" font-weight="bold" font-size="23.3" fill="#231f20" stroke="#231f20" stroke-width="1.0" textLength="469.20" lengthAdjust="spacing">pH on the capacity of adsorptive media</text>
<text transform="translate(60.3 80.60) scale(0.965 1)" font-family="Liberation Sans, sans-serif" font-size="16.4" fill="#231f20" text-anchor="end">1000</text>
<text transform="translate(60.3 98.50) scale(0.965 1)" font-family="Liberation Sans, sans-serif" font-size="16.4" fill="#231f20" text-anchor="end">800</text>
<text transform="translate(60.3 120.40) scale(0.965 1)" font-family="Liberation Sans, sans-serif" font-size="16.4" fill="#231f20" text-anchor="end">600</text>
<text transform="translate(60.3 151.80) scale(0.965 1)" font-family="Liberation Sans, sans-serif" font-size="16.4" fill="#231f20" text-anchor="end">400</text>
<text transform="translate(60.3 204.60) scale(0.965 1)" font-family="Liberation Sans, sans-serif" font-size="16.4" fill="#231f20" text-anchor="end">200</text>
<text transform="translate(60.3 260.10) scale(0.965 1)" font-family="Liberation Sans, sans-serif" font-size="16.4" fill="#231f20" text-anchor="end">100</text>
<text transform="translate(60.3 278.00) scale(0.965 1)" font-family="Liberation Sans, sans-serif" font-size="16.4" fill="#231f20" text-anchor="end">80</text>
<text transform="translate(60.3 299.50) scale(0.965 1)" font-family="Liberation Sans, sans-serif" font-size="16.4" fill="#231f20" text-anchor="end">60</text>
<text transform="translate(60.3 330.80) scale(0.965 1)" font-family="Liberation Sans, sans-serif" font-size="16.4" fill="#231f20" text-anchor="end">40</text>
<text transform="translate(60.3 384.20) scale(0.965 1)" font-family="Liberation Sans, sans-serif" font-size="16.4" fill="#231f20" text-anchor="end">20</text>
<text transform="translate(60.3 437.10) scale(0.965 1)" font-family="Liberation Sans, sans-serif" font-size="16.4" fill="#231f20" text-anchor="end">10</text>
<text transform="translate(66.50 451.8) scale(0.965 1)" font-family="Liberation Sans, sans-serif" font-size="16.4" fill="#231f20" text-anchor="middle">0</text>
<text transform="translate(122.65 451.8) scale(0.965 1)" font-family="Liberation Sans, sans-serif" font-size="16.4" fill="#231f20" text-anchor="middle">10</text>
<text transform="translate(179.80 451.8) scale(0.965 1)" font-family="Liberation Sans, sans-serif" font-size="16.4" fill="#231f20" text-anchor="middle">20</text>
<text transform="translate(236.95 451.8) scale(0.965 1)" font-family="Liberation Sans, sans-serif" font-size="16.4" fill="#231f20" text-anchor="middle">30</text>
<text transform="translate(294.10 451.8) scale(0.965 1)" font-family="Liberation Sans, sans-serif" font-size="16.4" fill="#231f20" text-anchor="middle">40</text>
<text transform="translate(351.25 451.8) scale(0.965 1)" font-family="Liberation Sans, sans-serif" font-size="16.4" fill="#231f20" text-anchor="middle">50</text>
<text transform="translate(408.40 451.8) scale(0.965 1)" font-family="Liberation Sans, sans-serif" font-size="16.4" fill="#231f20" text-anchor="middle">60</text>
<text transform="translate(465.55 451.8) scale(0.965 1)" font-family="Liberation Sans, sans-serif" font-size="16.4" fill="#231f20" text-anchor="middle">70</text>
<text transform="translate(522.70 451.8) scale(0.965 1)" font-family="Liberation Sans, sans-serif" font-size="16.4" fill="#231f20" text-anchor="middle">80</text>
<text transform="translate(579.85 451.8) scale(0.965 1)" font-family="Liberation Sans, sans-serif" font-size="16.4" fill="#231f20" text-anchor="middle">90</text>
<text transform="translate(637.00 451.8) scale(0.965 1)" font-family="Liberation Sans, sans-serif" font-size="16.4" fill="#231f20" text-anchor="middle">100</text>
<text x="238.3" y="476.3" font-family="Liberation Sans, sans-serif" font-size="18.8" fill="#231f20" textLength="232" lengthAdjust="spacingAndGlyphs">Percent As+3 / total arsenic</text>
<text transform="translate(17.6 444) rotate(-90)" x="0" y="0" font-family="Liberation Sans, sans-serif" font-size="19.2" fill="#231f20" textLength="380" lengthAdjust="spacingAndGlyphs">Water treated / cu.ft. of media (-000s gallons)</text>
<text x="645" y="313.6" font-family="Liberation Sans, sans-serif" font-size="18.7" fill="#231f20" textLength="71.5" lengthAdjust="spacingAndGlyphs">pH = 6.5</text>
<text x="645" y="339.2" font-family="Liberation Sans, sans-serif" font-size="18.7" fill="#231f20" textLength="71.5" lengthAdjust="spacingAndGlyphs">pH = 7.5</text>
<text x="645" y="361.8" font-family="Liberation Sans, sans-serif" font-size="18.7" fill="#231f20" textLength="71.5" lengthAdjust="spacingAndGlyphs">pH = 8.5</text>
<text x="645" y="399.2" font-family="Liberation Sans, sans-serif" font-size="18.7" fill="#231f20" textLength="71.5" lengthAdjust="spacingAndGlyphs">pH = 9.5</text>
<text x="439.0" y="178.6" font-family="Liberation Sans, sans-serif" font-size="18.7" fill="#231f20" textLength="146.5" lengthAdjust="spacingAndGlyphs">Total As = 50 ppb</text>
<text x="434.8" y="200.4" font-family="Liberation Sans, sans-serif" font-size="18.7" fill="#231f20" textLength="154" lengthAdjust="spacingAndGlyphs">distilled water with</text>
<text x="436.5" y="222.2" font-family="Liberation Sans, sans-serif" font-size="18.7" fill="#231f20" textLength="151.5" lengthAdjust="spacingAndGlyphs">no interfering ions</text>
</svg>
</body></html>
